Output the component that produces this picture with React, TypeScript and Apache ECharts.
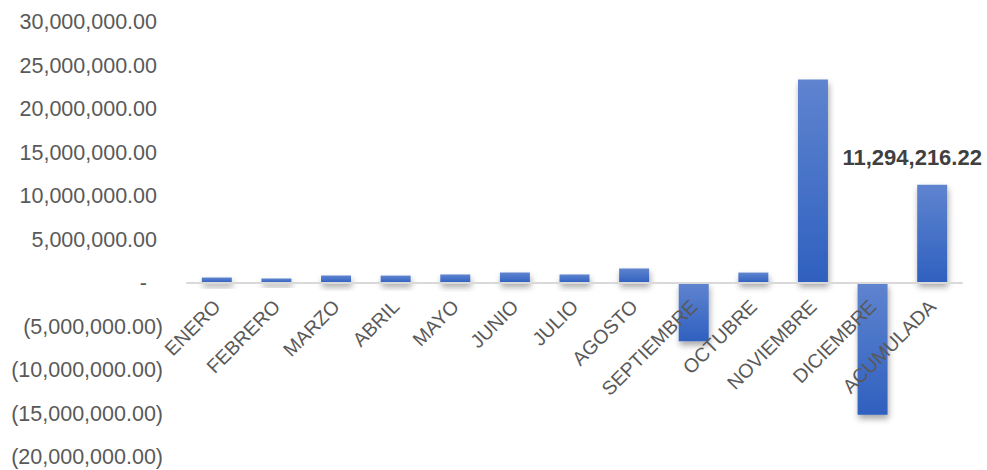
import React, { useEffect, useRef } from "react";
import * as echarts from "echarts";

const categories = [
  "ENERO", "FEBRERO", "MARZO", "ABRIL", "MAYO", "JUNIO", "JULIO",
  "AGOSTO", "SEPTIEMBRE", "OCTUBRE", "NOVIEMBRE", "DICIEMBRE", "ACUMULADA",
];
const values = [
  630000, 520000, 860000, 850000, 980000, 1200000, 980000,
  1670000, -6700000, 1200000, 23400000, -15150000, 11294216.22,
];
const labelledIndex = 12;

const fmt = (v: number) =>
  Math.abs(v).toLocaleString("en-US", { minimumFractionDigits: 2, maximumFractionDigits: 2 });

export default function App() {
  const ref = useRef<HTMLDivElement>(null);
  useEffect(() => {
    document.body.style.margin = "0";
    const chart = echarts.init(ref.current!, undefined, { renderer: "svg" });
    const grad = new echarts.graphic.LinearGradient(0, 0, 0, 1, [
      { offset: 0, color: "#5F84CF" },
      { offset: 1, color: "#2F60BF" },
    ]);
    const font = "Liberation Sans";
    const ys = 21.5;
    chart.setOption({
      animation: false,
      grid: { left: 187, right: 25, top: 22, bottom: 13, containLabel: false, outerBoundsMode: "none" },
      xAxis: {
        type: "category",
        data: categories,
        offset: -174,
        z: 10,
        axisLine: { onZero: false, lineStyle: { color: "#D9D9D9", width: 2 } },
        axisTick: { show: false },
        axisLabel: {
          rotate: 45,
          interval: 0,
          margin: 20,
          color: "#595959",
          fontSize: 19.5,
          fontFamily: font,
        },
      },
      yAxis: {
        type: "value",
        min: -20000000,
        max: 30000000,
        interval: 5000000,
        splitLine: { show: false },
        axisLine: { show: false },
        axisTick: { show: false },
        axisLabel: {
          margin: 24,
          color: "#595959",
          fontSize: ys,
          fontFamily: font,
          formatter: (v: number) => {
            if (v === 0) return "{z|-}";
            if (v < 0) return "{n|(" + fmt(v) + ")}";
            return "{p|" + fmt(v) + "}";
          },
          rich: {
            z: { color: "#595959", fontSize: ys, fontFamily: font, padding: [0, 16, 0, 0] },
            n: { color: "#595959", fontSize: ys, fontFamily: font },
            p: { color: "#595959", fontSize: ys, fontFamily: font, padding: [0, 6, 0, 0] },
          },
        },
      },
      series: [
        {
          type: "bar",
          z: 2,
          data: values.map((v, i) =>
            i === labelledIndex
              ? {
                  value: v,
                  label: {
                    show: true,
                    position: "top",
                    distance: 16,
                    offset: [-20, 0],
                    formatter: () => fmt(v),
                    color: "#404040",
                    fontWeight: "bold",
                    fontSize: 22,
                    fontFamily: font,
                  },
                }
              : v
          ),
          barWidth: 30,
          itemStyle: {
            color: grad,
            shadowColor: "rgba(0,0,0,0.35)",
            shadowBlur: 6,
            shadowOffsetX: 1,
            shadowOffsetY: 4,
          },
        },
      ],
    });
    return () => chart.dispose();
  }, []);
  return <div ref={ref} style={{ width: 987, height: 470 }} />;
}
